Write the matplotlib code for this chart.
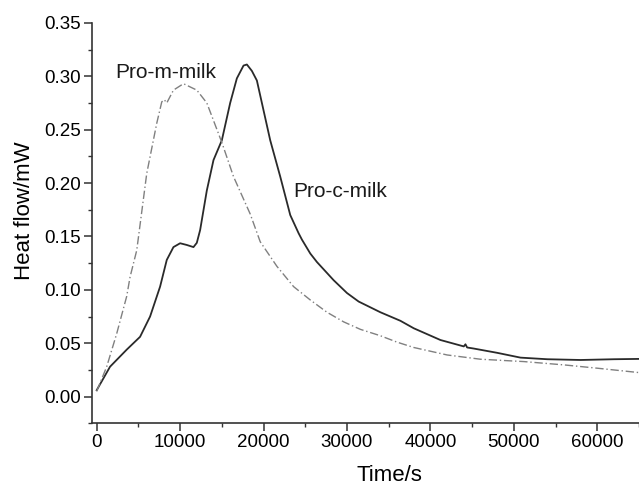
import matplotlib
matplotlib.use("Agg")
import matplotlib.pyplot as plt
from matplotlib.ticker import MultipleLocator, FormatStrFormatter

plt.rcParams['font.family'] = ['Liberation Sans', 'DejaVu Sans']

# Pro-c-milk (solid line)
c_time = [0, 1600, 3600, 5200, 6400, 7600, 8400, 9200, 10000, 10800, 11600,
          12000, 12400, 13200, 14000, 15000, 16000, 16800, 17600, 18000, 18600, 19200,
          20000, 20800, 22000, 23200, 24200, 24600, 25600, 26400, 28400, 30000,
          31400, 34000, 36400, 38000, 41200, 44000, 44200, 44400, 45200, 48000,
          50800, 54000, 58000, 62000, 65000]
c_heat = [0.006, 0.028, 0.044, 0.056, 0.075, 0.103, 0.128, 0.140, 0.1436, 0.142, 0.140,
          0.144, 0.156, 0.193, 0.2215, 0.240, 0.275, 0.298, 0.310, 0.311, 0.305, 0.296,
          0.268, 0.240, 0.206, 0.170, 0.153, 0.147, 0.134, 0.126, 0.109, 0.097,
          0.089, 0.079, 0.071, 0.064, 0.053, 0.047, 0.049, 0.046, 0.045, 0.041,
          0.0365, 0.035, 0.0343, 0.035, 0.0353]

# Pro-m-milk (dash-dot line)
m_time = [0, 1200, 2400, 3600, 4000, 4800, 6000, 7200, 7800, 8100, 8400, 9200,
          10400, 12000, 13200, 15000, 16400, 18400, 19600, 21600, 23600, 25600,
          27600, 29600, 31600, 34000, 36000, 38000, 42000, 46000, 51200, 56000,
          60000, 65000]
m_heat = [0.005, 0.028, 0.059, 0.094, 0.112, 0.137, 0.209, 0.256, 0.276, 0.278, 0.275, 0.287,
          0.293, 0.287, 0.275, 0.238, 0.206, 0.171, 0.145, 0.122, 0.103, 0.0905,
          0.079, 0.070, 0.063, 0.057, 0.051, 0.046, 0.039, 0.035, 0.0328, 0.0297,
          0.0266, 0.0225]

fig = plt.figure(figsize=(6.39, 4.86), dpi=100)
ax = fig.add_axes([0.144, 0.129, 0.856, 0.824])

ax.plot(c_time, c_heat, color='#2a2a2a', linewidth=1.3)
ax.plot(m_time, m_heat, color='#808080', linewidth=1.0, linestyle=(0, (6, 2, 1, 2)))

ax.text(2200, 0.298, 'Pro-m-milk', fontsize=15, color='#1a1a1a')
ax.text(23600, 0.187, 'Pro-c-milk', fontsize=15, color='#1a1a1a')

ax.set_xlim(-560, 65000)
ax.set_ylim(-0.025, 0.35)
ax.xaxis.set_major_locator(MultipleLocator(10000))
ax.xaxis.set_minor_locator(MultipleLocator(5000))
ax.yaxis.set_major_locator(MultipleLocator(0.05))
ax.yaxis.set_minor_locator(MultipleLocator(0.025))
ax.yaxis.set_major_formatter(FormatStrFormatter('%.2f'))

for s in ['top', 'right']:
    ax.spines[s].set_visible(False)
for s in ['left', 'bottom']:
    ax.spines[s].set_linewidth(1.2)
    ax.spines[s].set_color('#333333')

ax.tick_params(which='major', length=6, width=1.1, color='#333333', labelsize=13.5, pad=2)
ax.tick_params(which='minor', length=3, width=1.0, color='#333333')

ax.set_xlabel('Time/s', fontsize=16)
ax.set_ylabel('Heat flow/mW', fontsize=16)
ax.xaxis.set_label_coords(0.543, -0.105)
ax.yaxis.set_label_coords(-0.104, 0.532)

fig.savefig('out.png', dpi=100)
